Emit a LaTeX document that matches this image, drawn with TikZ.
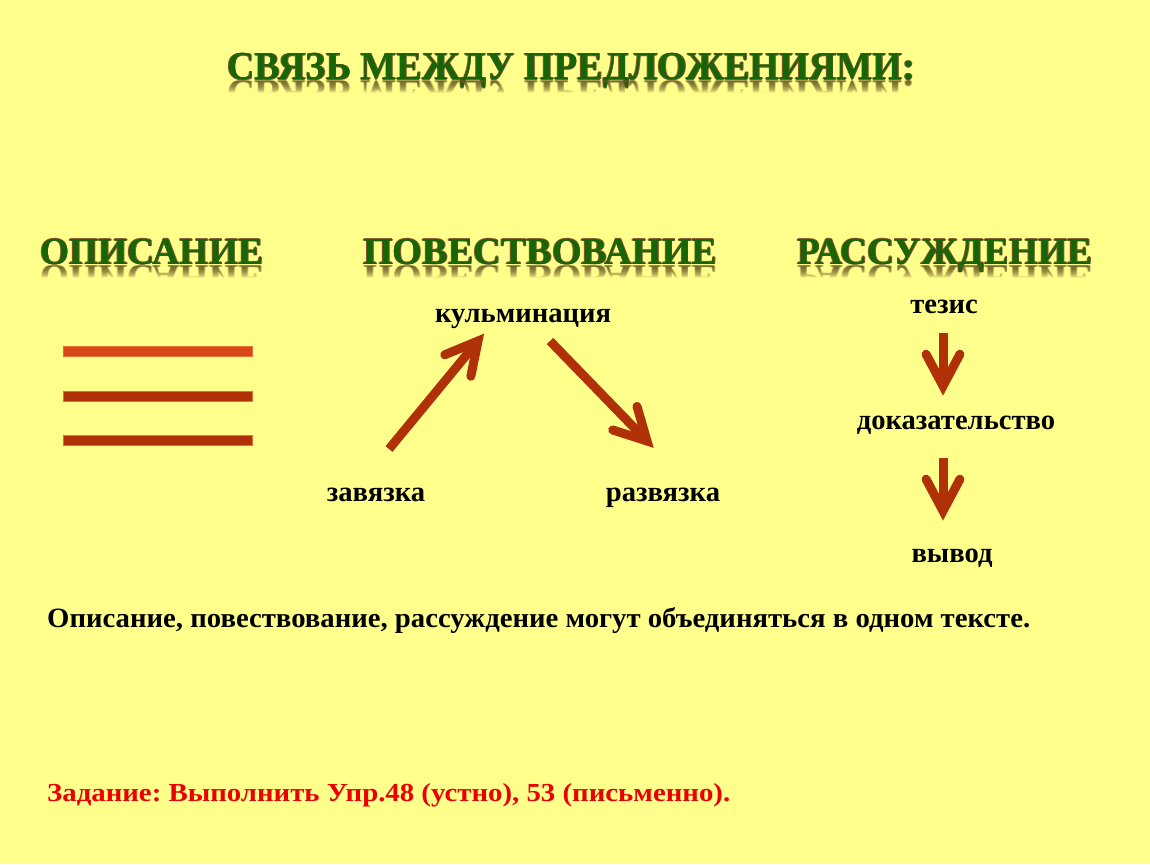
\documentclass[tikz,border=0pt]{standalone}
\usepackage{fontspec}
\setmainfont{Liberation Serif}
\usepackage{graphicx}
\usetikzlibrary{calc}
\definecolor{bg}{RGB}{255,255,140}
\definecolor{tgreen}{RGB}{22,102,8}
\definecolor{tbrown}{RGB}{135,85,45}
\definecolor{arrred}{RGB}{176,48,8}
\definecolor{bartop}{RGB}{214,72,24}
\definecolor{barline}{RGB}{232,112,50}
\definecolor{taskred}{RGB}{235,0,0}
\frenchspacing
\newcommand{\olt}[1]{\rlap{\raisebox{.8pt}{\color{tbrown}#1}}\rlap{\raisebox{-.8pt}{\color{tbrown}#1}}\rlap{\hspace{.8pt}\color{tbrown}#1}\rlap{\hspace{-.8pt}\color{tbrown}#1}{\color{tgreen}#1}}
\newcommand{\bigtxt}[4]{\resizebox{#1}{#2}{\fontsize{#3}{#3}\selectfont\bfseries\olt{#4}}}
\newcommand{\headtext}[7]{% name, x, y, width, height, fontsize, text
  \node[inner sep=0,anchor=base west] (#1) at (#2,#3) {\bigtxt{#4}{#5}{#6}{#7}};
  \foreach \i in {0,...,11}{
  \begin{scope}
    \clip (#2-5,#3+1+\i) rectangle ($(#2,#3+2+\i)+(#4+10pt,0)$);
    \node[inner sep=0,anchor=base west,yscale=-1,opacity={0.2*(1-\i/12)}] at (#2,#3+1) {\bigtxt{#4}{#5}{#6}{#7}};
  \end{scope}}}
\newcommand{\chev}[2]{% start, tip
  \draw[arr,line cap=butt] (#1) -- (#2);
  \draw[arr,line cap=round,line join=miter] ($(#2)!36pt!28:(#1)$) -- (#2) -- ($(#2)!36pt!-28:(#1)$);}
\begin{document}
\begin{tikzpicture}[x=1pt,y=-1pt,
  lbl/.style={inner sep=0,anchor=base,font=\fontsize{28.6}{32}\selectfont\bfseries},
  arr/.style={line width=9pt,draw=arrred},
  bar/.style={draw=barline,line width=.8pt}]
\fill[bg] (0,0) rectangle (1150,864);
\useasboundingbox (0,0) rectangle (1150,864);
% title and headings
\headtext{title}{227}{80}{688pt}{27pt}{40}{СВЯЗЬ МЕЖДУ ПРЕДЛОЖЕНИЯМИ:}
\headtext{h1}{40}{264}{223pt}{26pt}{38}{ОПИСАНИЕ}
\headtext{h2}{363}{264}{354pt}{26pt}{38}{ПОВЕСТВОВАНИЕ}
\headtext{h3}{797}{264}{295pt}{26pt}{38}{РАССУЖДЕНИЕ}
% description bars
\fill[bar,fill=bartop] (63,346) rectangle (252,356);
\fill[bar,fill=arrred] (63,391) rectangle (252,401);
\fill[bar,fill=arrred] (63,435) rectangle (252,445);
% narration
\node[lbl] (kulm) at (523,322) {кульминация};
\node[lbl] (zav) at (376,501) {завязка};
\node[lbl] (razv) at (663,501) {развязка};
\coordinate (a1s) at (389,449);
\coordinate (a1t) at (478,341);
\coordinate (a2s) at (550,341);
\coordinate (a2t) at (647,441);
\chev{a1s}{a1t}
\chev{a2s}{a2t}
% reasoning
\node[lbl] (tez) at (944,313) {тезис};
\node[lbl] (dok) at (956,429) {доказательство};
\node[lbl] (vyv) at (952,562) {вывод};
\coordinate (a3s) at (943,333);
\coordinate (a3t) at (943,386);
\coordinate (a4s) at (943,458);
\coordinate (a4t) at (943,511);
\chev{a3s}{a3t}
\chev{a4s}{a4t}
% bottom texts
\node[inner sep=0,anchor=base west] (note) at (47,627) {\resizebox{983pt}{20pt}{\fontsize{28}{32}\selectfont\bfseries Описание, повествование, рассуждение могут объединяться в одном тексте.}};
\node[inner sep=0,anchor=base west,text=taskred] (task) at (47,801) {\resizebox{683pt}{18pt}{\fontsize{26}{30}\selectfont\bfseries Задание: Выполнить Упр.48 (устно), 53 (письменно).}};
\end{tikzpicture}
\end{document}
